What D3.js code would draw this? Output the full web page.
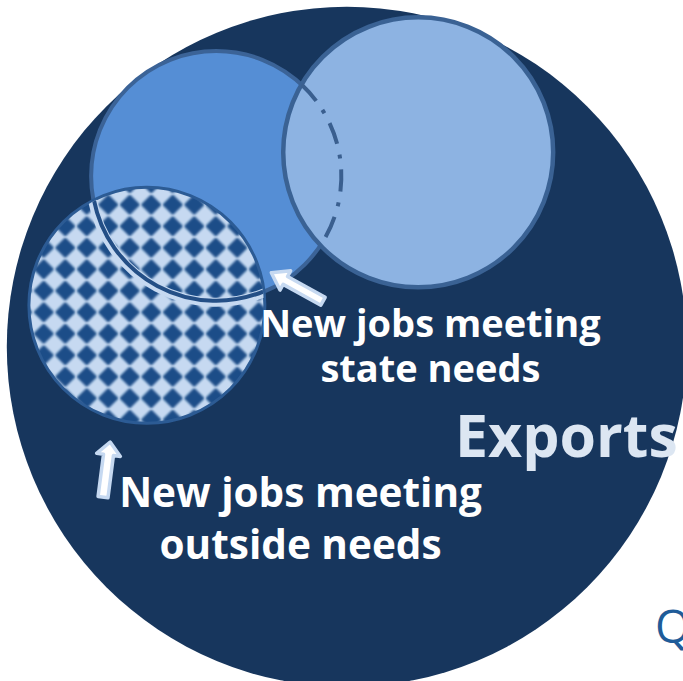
<!DOCTYPE html>
<html>
<head>
<meta charset="utf-8">
<script src="https://cdn.jsdelivr.net/npm/d3@7"></script>
<style>
  html, body { margin: 0; padding: 0; background: #ffffff; overflow: hidden; }
  svg { display: block; }
</style>
</head>
<body>
<script>
// Sets shown in the diagram (layout units: 0–100 across the drawing)
const setNames   = ["Exports", "New jobs meeting state needs", "Other new jobs", "New jobs meeting outside needs"];
const setCenterX = [51.0, 31.8, 61.5, 21.6];
const setCenterY = [51.0, 25.9, 22.4, 44.9];
const setRadius  = [50.0, 18.4, 19.85, 17.35];

// Text labels
const labelLines = [
  ["New jobs meeting", "state needs"],
  ["New jobs meeting", "outside needs"]
];
const labelAnchorX = [63.3, 44.2];
const labelAnchorY = [49.6, 74.5];
const exportsLabel = "Exports";
const sideLabel = "Q";

// Pointer arrows: tail → tip
const arrowTail = [[47.5, 44.3], [15.15, 73.1]];
const arrowTip  = [[39.9, 40.1], [16.2, 65.0]];

const W = 683, H = 681;
const pos = d3.scaleLinear().domain([0, 100]).range([0, 680]);
const len = v => pos(v) - pos(0);

const svg = d3.select("body").append("svg").attr("width", W).attr("height", H);
const defs = svg.append("defs");

const circles = setNames.map((n, i) => ({
  name: n, cx: pos(setCenterX[i]), cy: pos(setCenterY[i]), r: len(setRadius[i])
}));
const [big, state, other, outside] = circles;

// Diamond fill used for the outside-needs set
const blur = defs.append("filter").attr("id", "soft")
  .attr("x", "-20%").attr("y", "-20%").attr("width", "140%").attr("height", "140%");
blur.append("feGaussianBlur").attr("stdDeviation", 1);
const cell = 21.5;
const pat = defs.append("pattern").attr("id", "diamonds")
  .attr("patternUnits", "userSpaceOnUse")
  .attr("width", cell).attr("height", cell)
  .attr("x", 11.5).attr("y", 0.5);
pat.append("rect").attr("width", cell).attr("height", cell).attr("fill", "#c6d9f1");
const hd = 8.6, c0 = cell / 2;
pat.append("g").attr("filter", "url(#soft)").append("path")
  .attr("d", `M${c0},${c0 - hd}L${c0 + hd},${c0}L${c0},${c0 + hd}L${c0 - hd},${c0}Z`)
  .attr("fill", "#1f4e88").attr("stroke", "#1f4e88")
  .attr("stroke-width", 2.5).attr("stroke-linejoin", "round");

// Clip paths
defs.append("clipPath").attr("id", "clipOther").append("circle")
  .attr("cx", other.cx).attr("cy", other.cy).attr("r", other.r);
defs.append("clipPath").attr("id", "clipOutside").append("circle")
  .attr("cx", outside.cx).attr("cy", outside.cy).attr("r", outside.r - 1);

// Circle–circle intersection points
function intersect(a, b) {
  const dx = b.cx - a.cx, dy = b.cy - a.cy, d = Math.hypot(dx, dy);
  const p = (a.r * a.r - b.r * b.r + d * d) / (2 * d);
  const h = Math.sqrt(Math.max(0, a.r * a.r - p * p));
  const mx = a.cx + p * dx / d, my = a.cy + p * dy / d;
  return [[mx + h * dy / d, my - h * dx / d], [mx - h * dy / d, my + h * dx / d]];
}
function arcPath(c, p0, p1, r) {
  const a0 = Math.atan2(p0[1] - c.cy, p0[0] - c.cx);
  const a1 = Math.atan2(p1[1] - c.cy, p1[0] - c.cx);
  const rr = r || c.r;
  let da = a1 - a0; if (da < 0) da += 2 * Math.PI;
  const s = [c.cx + rr * Math.cos(a0), c.cy + rr * Math.sin(a0)];
  const e = [c.cx + rr * Math.cos(a1), c.cy + rr * Math.sin(a1)];
  return `M${s}A${rr},${rr} 0 ${da > Math.PI ? 1 : 0} 1 ${e}`;
}

// Universe set
svg.append("circle").attr("cx", big.cx).attr("cy", big.cy).attr("r", big.r)
  .attr("fill", "#17365d");

// State-needs set
svg.append("circle").attr("cx", state.cx).attr("cy", state.cy).attr("r", state.r)
  .attr("fill", "#558ed5").attr("stroke", "#3b6397").attr("stroke-width", 4);

// Other set, overlapping
svg.append("circle").attr("cx", other.cx).attr("cy", other.cy).attr("r", other.r)
  .attr("fill", "#8db3e2").attr("stroke", "#3a6294").attr("stroke-width", 4.5);

// Hidden edge of the state-needs set, dash-dot
const so = intersect(state, other);
const soTop = so[0][1] < so[1][1] ? so[0] : so[1];
const soBot = so[0][1] < so[1][1] ? so[1] : so[0];
svg.append("path").attr("d", arcPath(state, soTop, soBot))
  .attr("clip-path", "url(#clipOther)")
  .attr("fill", "none").attr("stroke", "#3a5f8f").attr("stroke-width", 4)
  .attr("stroke-dasharray", "22,11,4,11");

// Outside-needs set with diamond fill
svg.append("circle").attr("cx", outside.cx).attr("cy", outside.cy).attr("r", outside.r)
  .attr("fill", "url(#diamonds)").attr("stroke", "#2c5b94").attr("stroke-width", 3);

// Edge of the state-needs set seen through the outside-needs set
const st = intersect(state, outside);
const stL = st[0][0] < st[1][0] ? st[0] : st[1];
const stR = st[0][0] < st[1][0] ? st[1] : st[0];
const inner = svg.append("g").attr("clip-path", "url(#clipOutside)");
inner.append("path").attr("d", arcPath(state, stR, stL, state.r + 1))
  .attr("fill", "none").attr("stroke", "#c6d9f1").attr("stroke-width", 9);
inner.append("path").attr("d", arcPath(state, stR, stL, state.r - 0.5))
  .attr("fill", "none").attr("stroke", "#244f86").attr("stroke-width", 4);

// Block arrows
function blockArrow(t, h, shaft, headW, headL) {
  const x0 = pos(t[0]), y0 = pos(t[1]), x1 = pos(h[0]), y1 = pos(h[1]);
  const L = Math.hypot(x1 - x0, y1 - y0);
  const ux = (x1 - x0) / L, uy = (y1 - y0) / L, nx = -uy, ny = ux;
  const P = (a, b) => [x0 + ux * a + nx * b, y0 + uy * a + ny * b];
  const pts = [P(0, -shaft / 2), P(L - headL, -shaft / 2), P(L - headL, -headW / 2), P(L, 0),
               P(L - headL, headW / 2), P(L - headL, shaft / 2), P(0, shaft / 2)];
  return d3.line()(pts) + "Z";
}
svg.append("path").attr("d", blockArrow(arrowTail[0], arrowTip[0], 9, 22, 16))
  .attr("fill", "#ffffff").attr("stroke", "#c6d9f1").attr("stroke-width", 3.5)
  .attr("stroke-linejoin", "round");
svg.append("path").attr("d", blockArrow(arrowTail[1], arrowTip[1], 10, 24, 13))
  .attr("fill", "#ffffff").attr("stroke", "#c6d9f1").attr("stroke-width", 3.5)
  .attr("stroke-linejoin", "round");

// Labels, one text element per line
const font = "'Open Sans', Lato, sans-serif";
const lineGap = [45, 52];
const fSize = [38, 40.5];
labelLines.forEach((lines, i) => {
  lines.forEach((l, j) => {
    svg.append("text")
      .attr("x", pos(labelAnchorX[i])).attr("y", pos(labelAnchorY[i]) + j * lineGap[i])
      .attr("text-anchor", "middle").attr("fill", "#ffffff")
      .attr("font-family", font).attr("font-weight", 700).attr("font-size", fSize[i])
      .text(l);
  });
});

svg.append("text").attr("x", 455).attr("y", 457)
  .attr("fill", "#dce6f2").attr("font-family", font).attr("font-weight", 700)
  .attr("font-size", 59).text(exportsLabel);

svg.append("text").attr("x", 655).attr("y", 643)
  .attr("fill", "#1f5c99").attr("font-family", font).attr("font-weight", 400)
  .attr("font-size", 46).text(sideLabel);
</script>
</body>
</html>
